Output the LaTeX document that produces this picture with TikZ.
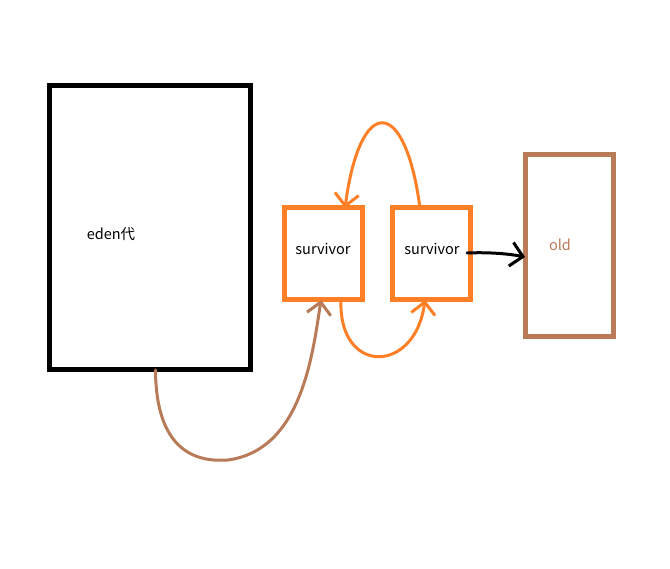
\documentclass[tikz,border=0pt]{standalone}
\usepackage{fontspec}
\setmainfont{Noto Sans CJK SC}
\usetikzlibrary{arrows.meta}
\definecolor{paintorange}{HTML}{FF7F27}
\definecolor{paintbrown}{HTML}{B97A57}
\begin{document}
\begin{tikzpicture}[x=1pt,y=-1pt,
  box/.style={draw,line width=5pt,inner sep=0pt,outer sep=0pt},
  lbl/.style={font=\fontsize{14.5}{17}\selectfont,inner sep=0pt},
  barb/.style={-{Straight Barb[length=12pt,width=24pt,line width=3pt]},line width=3pt,line cap=round}]
\useasboundingbox (0,0) rectangle (670,569);
\node[box,minimum width=201pt,minimum height=284pt] (eden) at (149.5,228) {};
\node[box,draw=paintorange,minimum width=78pt,minimum height=92pt] (s1) at (323,254) {};
\node[box,draw=paintorange,minimum width=78pt,minimum height=92pt] (s2) at (431,254) {};
\node[box,draw=paintbrown,minimum width=88pt,minimum height=182pt] (old) at (569,246) {};
\node[lbl] (edent) at (111,234) {eden代};
\node[lbl] (s1t) at (323,249) {survivor};
\node[lbl] (s2t) at (432,249) {survivor};
\node[lbl,text=paintbrown] (oldt) at (560,245) {old};
\coordinate (a1) at ([xshift=6pt]eden.south);
\coordinate (a1e) at ([xshift=-2pt]s1.south);
\coordinate (t1) at ([xshift=-11pt]s2.north);
\coordinate (t2) at ([xshift=22pt]s1.north);
\coordinate (b1) at ([xshift=18pt]s1.south);
\coordinate (b2) at ([xshift=-6pt]s2.south);
\coordinate (k1) at ([xshift=-3pt,yshift=1pt]s2.east);
\coordinate (k2) at ([yshift=-11pt]old.west);
\draw[barb,paintbrown] (a1) .. controls (156,455) and (200,462) .. (228,460) .. controls (300,450) and (312,360) .. (a1e);
\draw[barb,paintorange] (t1) .. controls (405,95) and (360,95) .. (t2);
\draw[barb,paintorange] (b1) .. controls (338,375) and (415,375) .. (b2);
\draw[barb,black] (k1) .. controls (490,252) and (510,254) .. (k2);
\end{tikzpicture}
\end{document}
